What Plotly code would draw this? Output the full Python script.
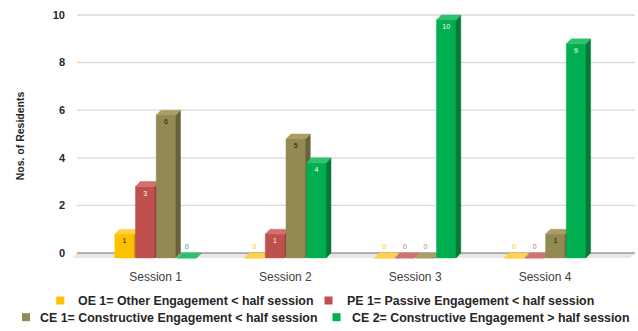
import plotly.graph_objects as go

# ---- data ----
sessions = ["Session 1", "Session 2", "Session 3", "Session 4"]
series_names = [
    "OE 1= Other Engagement < half session",
    "PE 1= Passive Engagement < half session",
    "CE 1= Constructive Engagement < half session",
    "CE 2= Constructive Engagement > half session",
]
oe1 = [1, 0, 0, 0]
pe1 = [3, 1, 0, 0]
ce1 = [6, 5, 0, 1]
ce2 = [0, 4, 10, 9]
y_ticks = [0, 2, 4, 6, 8, 10]

# ---- styling ----
front_colors = ["#FFC000", "#C0504D", "#938953", "#00B050"]
side_colors = ["#C99700", "#8E3936", "#6A623A", "#007A36"]
top_colors = ["#FFD04A", "#D2716E", "#A89E66", "#2FC26E"]
label_colors = ["#1a1a1a", "#ffffff", "#1a1a1a", "#ffffff"]
zero_colors = ["#FFC000", "#D06A67", "#A39A6A", "#00B050"]
FONT = "Arial, Liberation Sans, sans-serif"

W, H = 638, 331
ML, MR, MT, MB = 72, 2, 10, 69
PW, PH = W - ML - MR, H - MT - MB

slot = 0.1595        # width of one bar slot (category units)
bar_w = 0.150        # front face width
dx = 0.037           # depth offset, horizontal (category units)
dy = 0.205           # depth offset, vertical (value units)

fig = go.Figure()
all_series = [oe1, pe1, ce1, ce2]


def polys(corner_lists):
    xs, ys = [], []
    for pts in corner_lists:
        for px, py in pts:
            xs.append(px)
            ys.append(py)
        xs.append(pts[0][0])
        ys.append(pts[0][1])
        xs.append(None)
        ys.append(None)
    return xs, ys


for j, vals in enumerate(all_series):
    fronts, sides, tops = [], [], []
    for i, v in enumerate(vals):
        xc = i + (j - 1.5) * slot
        x0, x1 = xc - bar_w / 2, xc + bar_w / 2
        fronts.append([(x0, -dy), (x1, -dy), (x1, v - dy), (x0, v - dy)])
        sides.append([(x1, -dy), (x1 + dx, 0), (x1 + dx, v), (x1, v - dy)])
        tops.append([(x0, v - dy), (x1, v - dy), (x1 + dx, v), (x0 + dx, v)])
    for corners, col in ((fronts, front_colors[j]), (sides, side_colors[j]), (tops, top_colors[j])):
        xs, ys = polys(corners)
        fig.add_trace(go.Scatter(
            x=xs, y=ys, mode="lines", fill="toself", fillcolor=col,
            line=dict(color=col, width=0.5), hoverinfo="skip",
            showlegend=False, name=series_names[j],
        ))
    # value labels
    lx, ly, lt, lc = [], [], [], []
    for i, v in enumerate(vals):
        xc = i + (j - 1.5) * slot
        lx.append(xc)
        ly.append(v - dy - 0.32 if v > 0 else 0.26)
        lt.append(str(v))
        lc.append(label_colors[j] if v > 0 else zero_colors[j])
    fig.add_trace(go.Scatter(
        x=lx, y=ly, mode="text", text=lt,
        textfont=dict(family=FONT, size=7, color=lc),
        hoverinfo="skip", showlegend=False,
    ))

# pixel helpers for placing the floor / grid
cat_px0, cat_step = 155.6, 129.8


def xdata(px):
    return (px - cat_px0) / cat_step


x_lo, x_hi = xdata(ML), xdata(W - MR)
y_lo, y_hi = -9 / 23.8, (253 - MT) / 23.8

shapes = []
# floor
shapes.append(dict(
    type="path", xref="x", yref="y", layer="below",
    path=f"M{xdata(72)},{-dy} L{xdata(77)},0 L{xdata(635)},0 L{xdata(630)},{-dy} Z",
    fillcolor="#E7E7E7", line=dict(width=0),
))
# back-wall gridlines
for t in y_ticks:
    shapes.append(dict(
        type="line", xref="x", yref="y", layer="below",
        x0=xdata(77), x1=xdata(635), y0=t, y1=t,
        line=dict(color="#6E6E6E" if t == 0 else "#D9D9D9", width=1 if t == 0 else 1.3),
    ))


def xp(px):
    return (px - ML) / PW


def yp(py):
    return (H - MB - py) / PH


# legend (two centred rows)
legend_items = [
    (0, 60.3, 300.5, 76),
    (1, 328.5, 300.5, 345),
    (2, 26.0, 317.2, 37.7),
    (3, 336.5, 317.2, 350),
]
annotations = []
for j, cx, cy, tx in legend_items:
    shapes.append(dict(
        type="rect", xref="paper", yref="paper",
        x0=xp(cx - 4), x1=xp(cx + 4), y0=yp(cy + 4), y1=yp(cy - 4),
        fillcolor=front_colors[j], line=dict(width=0),
    ))
    annotations.append(dict(
        xref="paper", yref="paper", x=xp(tx), y=yp(cy + 0.5),
        xanchor="left", yanchor="middle", showarrow=False,
        text=f"<b>{series_names[j].replace('<', '&lt;').replace('>', '&gt;')}</b>",
        font=dict(family=FONT, size=12.4, color="#262626"),
    ))

fig.update_layout(
    width=W, height=H,
    margin=dict(l=ML, r=MR, t=MT, b=MB),
    paper_bgcolor="white", plot_bgcolor="white",
    shapes=shapes, annotations=annotations,
    showlegend=False,
    xaxis=dict(
        range=[x_lo, x_hi], tickvals=[0, 1, 2, 3], ticktext=sessions,
        showgrid=False, zeroline=False, showline=False, ticks="",
        tickfont=dict(family=FONT, size=12, color="#404040"),
        ticklabelstandoff=6, fixedrange=True,
    ),
    yaxis=dict(
        range=[y_lo, y_hi], tickvals=y_ticks,
        ticktext=[f"<b>{t}</b>" for t in y_ticks],
        showgrid=False, zeroline=False, showline=False, ticks="",
        tickfont=dict(family=FONT, size=11, color="#262626"),
        ticklabelstandoff=6, fixedrange=True,
        title=dict(text="<b>Nos. of Residents</b>", standoff=26,
                   font=dict(family=FONT, size=10.5, color="#262626")),
    ),
)

fig.write_html("out.html")
